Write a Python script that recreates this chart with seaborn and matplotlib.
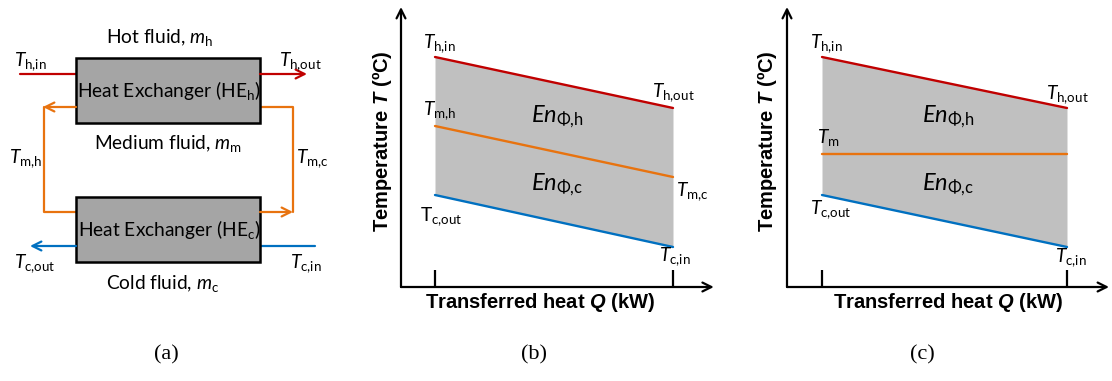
import matplotlib
matplotlib.use("Agg")
import matplotlib.pyplot as plt
from matplotlib.patches import Rectangle
import seaborn as sns
import pandas as pd

# ---------------- data ----------------
Q = [1, 8]                      # transferred heat (arbitrary units), two ends
b_hot = [23.0, 17.9]
b_medium = [16.1, 11.0]
b_cold = [9.2, 4.0]
c_hot = [23.0, 17.9]
c_medium = [13.3, 13.3]
c_cold = [9.2, 4.0]

series_names = ["hot", "medium", "cold"]
series_colors = {"hot": "#C00000", "medium": "#E8730F", "cold": "#0070C0"}

xlabel = r"Transferred heat $\mathbfit{Q}$ (kW)"
ylabel = r"Temperature $\mathbfit{T}$ (ºC)"
captions = ["(a)", "(b)", "(c)"]

# schematic (a) geometry in panel pixels
box_x, box_w, box_h = 76, 184, 65
box_tops = [58, 197]
box_labels = [r"Heat Exchanger (HE$_{\text{h}}$)", r"Heat Exchanger (HE$_{\text{c}}$)"]

sns.set_theme(style="white")
plt.rcParams["font.family"] = ["Lato", "DejaVu Sans"]
plt.rcParams["text.color"] = "black"
plt.rcParams["mathtext.fontset"] = "custom"
plt.rcParams["mathtext.rm"] = "Lato"
plt.rcParams["mathtext.it"] = "Lato:italic"
plt.rcParams["mathtext.bf"] = "Lato:bold"
plt.rcParams["mathtext.bfit"] = "Liberation Sans:italic:bold"
plt.rcParams["mathtext.fallback"] = "stixsans"

W, H = 1112, 381
fig = plt.figure(figsize=(W / 100, H / 100), dpi=100)
fig.patch.set_facecolor("white")

FS = 13.8

def T(sub, italic=True):
    base = "T" if italic else r"\mathrm{T}"
    return r"$" + base + r"_{\text{" + sub + r"}}$"

# ---------------- panel (a) ----------------
axa = fig.add_axes([0, (H - 300) / H, 340 / W, 300 / H])
axa.set_xlim(0, 340)
axa.set_ylim(300, 0)
axa.axis("off")

for top, lab in zip(box_tops, box_labels):
    axa.add_patch(Rectangle((box_x, top), box_w, box_h, facecolor="#A5A5A5",
                            edgecolor="black", lw=1.8, zorder=3))
    axa.text(box_x + box_w / 2 + 1, top + box_h / 2, lab, ha="center", va="center",
             fontsize=FS, zorder=4)

def arrow(ax, p0, p1, color):
    ax.annotate("", xy=p1, xytext=p0,
                arrowprops=dict(arrowstyle="->", color=color, lw=1.6,
                                mutation_scale=16, shrinkA=0, shrinkB=0))

red, orange, blue = series_colors["hot"], series_colors["medium"], series_colors["cold"]
# hot stream
axa.plot([20, 76], [74, 74], color=red, lw=1.6)
arrow(axa, (260, 74), (307, 74), red)
# medium loop
arrow(axa, (76, 107), (43, 107), orange)
axa.plot([44, 44, 76], [107, 212, 212], color=orange, lw=1.6)
axa.plot([260, 293, 293], [107, 107, 212], color=orange, lw=1.6)
arrow(axa, (260, 212), (293, 212), orange)
# cold stream
axa.plot([315, 260], [246, 246], color=blue, lw=1.6)
arrow(axa, (76, 246), (30, 246), blue)

axa.text(160, 37, r"Hot fluid, $m_{\text{h}}$", ha="center", va="center", fontsize=FS)
axa.text(168, 144, r"Medium fluid, $m_{\text{m}}$", ha="center", va="center", fontsize=FS)
axa.text(163, 283, r"Cold fluid, $m_{\text{c}}$", ha="center", va="center", fontsize=FS)
axa.text(14, 62, T("h,in"), ha="left", va="center", fontsize=FS)
axa.text(279, 62, T("h,out"), ha="left", va="center", fontsize=FS)
axa.text(9, 159, T("m,h"), ha="left", va="center", fontsize=FS)
axa.text(296, 159, T("m,c"), ha="left", va="center", fontsize=FS)
axa.text(14, 264, T("c,out"), ha="left", va="center", fontsize=FS)
axa.text(290, 264, T("c,in"), ha="left", va="center", fontsize=FS)

# ---------------- panels (b) and (c) ----------------
def tq_panel(left_px, px_per_unit, hot, med, cold, labels, xlab_q):
    width = 9.2 * px_per_unit
    ax = fig.add_axes([left_px / W, (H - 287) / H, width / W, 280 / H])
    df = pd.DataFrame({
        "Q": Q * 3,
        "T": hot + med + cold,
        "stream": [s for s in series_names for _ in Q],
    })
    ax.fill_between(Q, cold, hot, color="#C0C0C0", lw=0, zorder=1)
    sns.lineplot(data=df, x="Q", y="T", hue="stream", palette=series_colors,
                 lw=1.7, legend=False, ax=ax, zorder=3)
    ax.set_xlim(0, 9.2)
    ax.set_ylim(0, 28)
    for s in ax.spines.values():
        s.set_visible(False)
    ax.set_xlabel("")
    ax.set_ylabel("")
    ax.set_yticks([])
    ax.set_xticks(Q)
    ax.set_xticklabels([])
    ax.tick_params(axis="x", direction="in", length=12, width=1.6, color="black",
                   bottom=True)
    ax.annotate("", xy=(1, 0), xytext=(0, 0), xycoords="axes fraction",
                arrowprops=dict(arrowstyle="->", color="black", lw=1.6,
                                mutation_scale=16, shrinkA=0, shrinkB=0))
    ax.annotate("", xy=(0, 1), xytext=(0, 0), xycoords="axes fraction",
                arrowprops=dict(arrowstyle="->", color="black", lw=1.6,
                                mutation_scale=16, shrinkA=0, shrinkB=0))
    for (x, y, t, ha) in labels:
        ax.text(x, y, t, ha=ha, va="center", fontsize=FS, zorder=5)
    ax.text(xlab_q, -1.6, xlabel, ha="center", va="center", fontsize=14.5,
            fontweight="bold", family="Liberation Sans", clip_on=False)
    ax.text(-0.57, 14.6, ylabel, ha="center", va="center", rotation=90,
            fontsize=14.5, fontweight="bold", family="Liberation Sans", clip_on=False)
    return ax

en_h = r"$En_{\Phi\text{,h}}$"
en_c = r"$En_{\Phi\text{,c}}$"
FSE = 17

labels_b = [
    (0.65, 24.3, T("h,in"), "left"),
    (7.38, 19.4, T("h,out"), "left"),
    (0.65, 17.6, T("m,h"), "left"),
    (8.1, 9.5, T("m,c"), "left"),
    (0.56, 7.0, T("c,out", italic=False), "left"),
    (7.6, 3.0, T("c,in"), "left"),
]
labels_c = [
    (0.66, 24.3, T("h,in"), "left"),
    (7.4, 19.2, T("h,out"), "left"),
    (0.86, 15.0, T("m"), "left"),
    (0.66, 7.7, T("c,out"), "left"),
    (7.66, 2.9, T("c,in"), "left"),
]

axb = tq_panel(401, 34, b_hot, b_medium, b_cold, labels_b, 4.09)
axb.text(4.6, 17.0, en_h, ha="center", va="center", fontsize=FSE, zorder=5)
axb.text(4.6, 10.2, en_c, ha="center", va="center", fontsize=FSE, zorder=5)

axc = tq_panel(787, 35, c_hot, c_medium, c_cold, labels_c, 4.6)
axc.text(4.6, 17.0, en_h, ha="center", va="center", fontsize=FSE, zorder=5)
axc.text(4.6, 10.2, en_c, ha="center", va="center", fontsize=FSE, zorder=5)

# ---------------- captions ----------------
for xpx, cap in zip([166, 534, 922], captions):
    fig.text(xpx / W, 1 - 355 / H, cap, ha="center", va="center",
             fontsize=16, family="Liberation Serif")

fig.savefig("out.png", dpi=100, facecolor="white")
